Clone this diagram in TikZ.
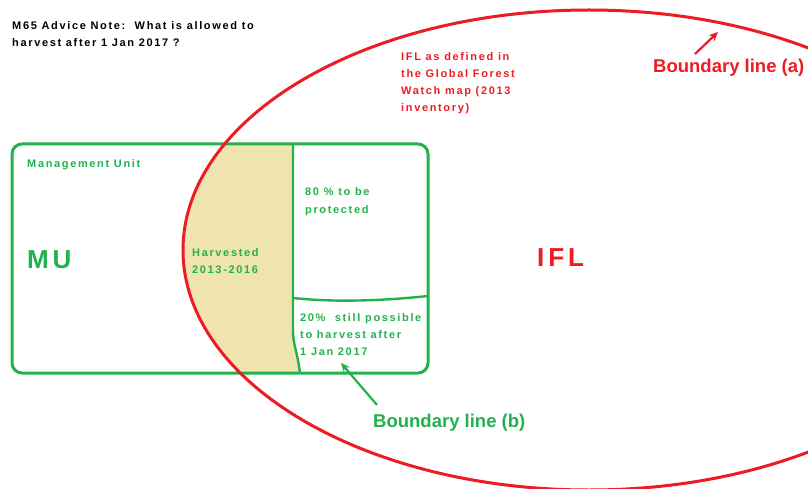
\documentclass[tikz,border=0pt]{standalone}
\usepackage{fontspec}
\setmainfont{Liberation Sans}
\newfontfamily\spf{Liberation Sans}[LetterSpace=15]
\usetikzlibrary{arrows.meta}
\definecolor{pgreen}{HTML}{22B14C}
\definecolor{pred}{HTML}{ED1C24}
\definecolor{ptan}{HTML}{EFE4B0}
\tikzset{
  small/.style={anchor=base west, inner sep=0pt, font=\spf\bfseries\fontsize{11}{17}\selectfont},
  big/.style={anchor=base west, inner sep=0pt, font=\bfseries\fontsize{18.5}{20}\selectfont},
  huge/.style={anchor=base west, inner sep=0pt, font=\spf\bfseries\fontsize{26}{28}\selectfont},
  arr/.style={line width=2.2pt, -{Stealth[length=9pt,width=8pt]}}
}
\begin{document}
\begin{tikzpicture}[x=1pt,y=-1pt]
\useasboundingbox (0,0) rectangle (808,489);
% harvested fill
\begin{scope}
  \clip (589,250) ellipse [x radius=406, y radius=240];
  \fill[ptan] (180,144) -- (293,144) -- (293,330) .. controls (293,345) and (297,350) .. (300,373) -- (180,373) -- cycle;
\end{scope}
% box
\draw[pgreen, line width=3pt, rounded corners=10pt] (12,144) rectangle (428,373);
\draw[pgreen, line width=2.4pt] (293,144) -- (293,330) .. controls (293,345) and (297,350) .. (300,373);
\draw[pgreen, line width=2.4pt] (293,298) .. controls (340,303) and (390,300) .. (428,296);
% ellipse
\begin{scope}
  \clip (0,0) rectangle (808,489);
  \draw[pred, line width=3pt] (589,250) ellipse [x radius=406, y radius=240];
\end{scope}
% texts
\node[small, text=black] (title1) at (12,30) {M65 Advice Note:\ \ What is allowed to};
\node[small, text=black] (title2) at (12,47) {harvest after 1 Jan 2017 ?};
\node[small, text=pred] (ifldef1) at (401,61) {IFL as defined in};
\node[small, text=pred] (ifldef2) at (401,78) {the Global Forest};
\node[small, text=pred] (ifldef3) at (401,95) {Watch map (2013};
\node[small, text=pred] (ifldef4) at (401,112) {inventory)};
\node[big, text=pred] (ba) at (653,73) {Boundary line (a)};
\node[small, text=pgreen] (mu) at (27,168) {Management Unit};
\node[huge, text=pgreen] (mubig) at (27,268) {MU};
\node[small, text=pgreen] (harv1) at (192,256) {Harvested};
\node[small, text=pgreen] (harv2) at (192,273) {2013-2016};
\node[small, text=pgreen] (prot1) at (305,196) {80 \% to be};
\node[small, text=pgreen] (prot2) at (305,213) {protected};
\node[small, text=pgreen] (poss1) at (300,321) {20\%\ \ still possible};
\node[small, text=pgreen] (poss2) at (300,338) {to harvest after};
\node[small, text=pgreen] (poss3) at (300,355) {1 Jan 2017};
\node[huge, text=pred] (ifl) at (537,266) {IFL};
\node[big, text=pgreen] (bb) at (373,427) {Boundary line (b)};
% arrows
\coordinate (a1) at (695,54);
\coordinate (a2) at (718,32);
\draw[arr, pred] (a1) -- (a2);
\coordinate (b1) at (377,405);
\coordinate (b2) at (341,363);
\draw[arr, pgreen] (b1) -- (b2);
\end{tikzpicture}
\end{document}
